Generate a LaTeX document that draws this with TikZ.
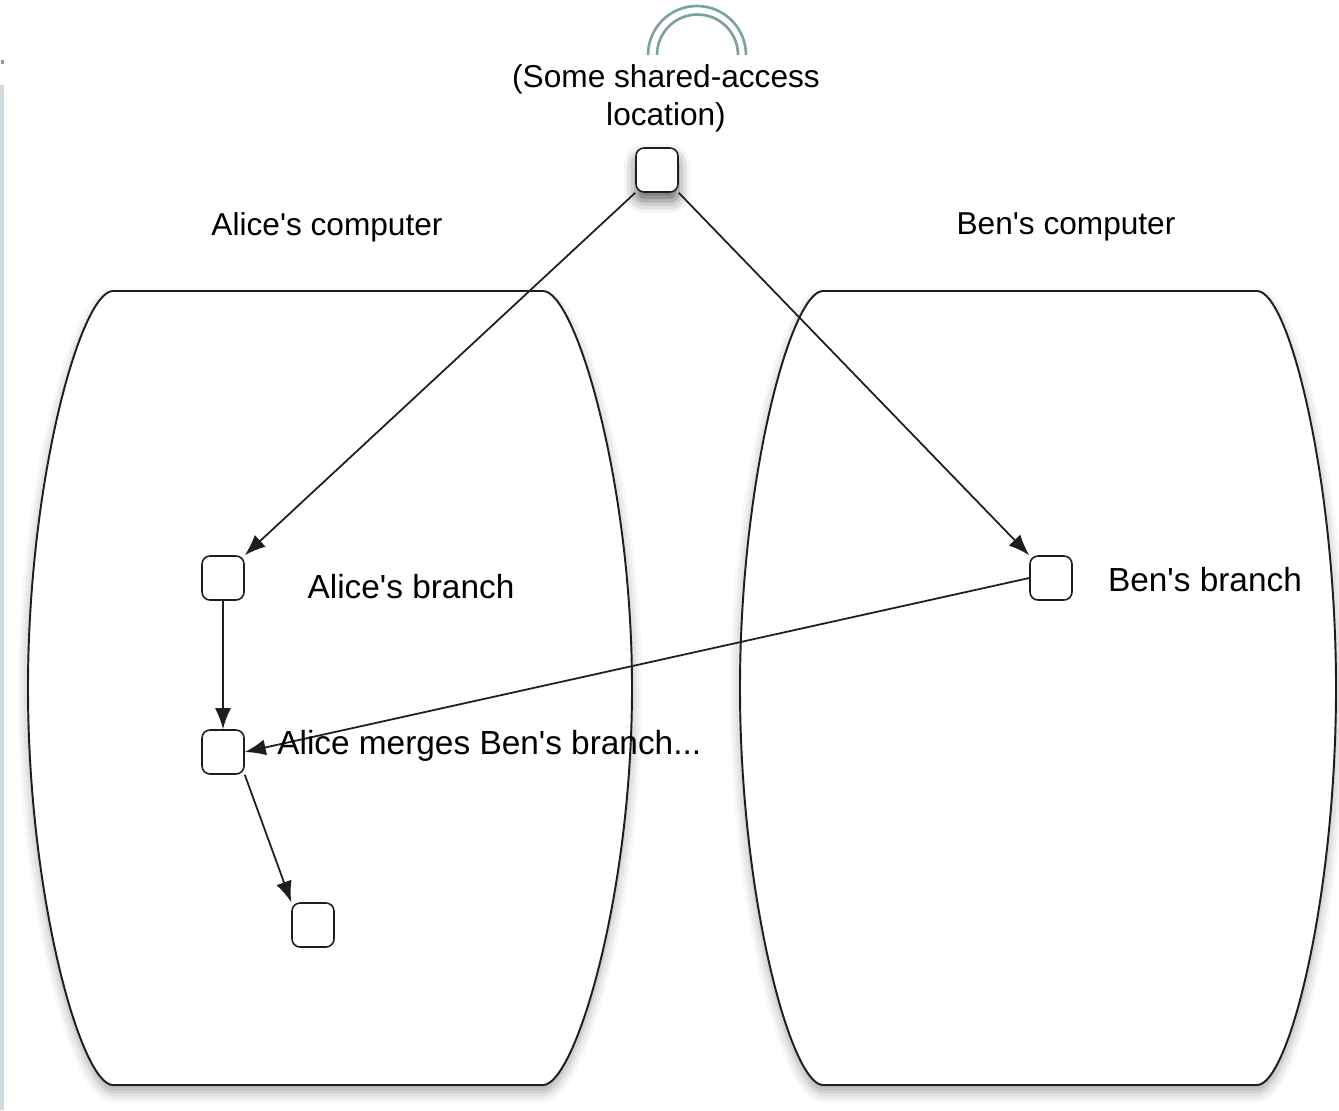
\documentclass[tikz,border=0pt]{standalone}
\usepackage{fontspec}
\setmainfont{Liberation Sans}
\usetikzlibrary{arrows.meta,shadows.blur,scopes}
\definecolor{archue}{RGB}{122,162,162}
\definecolor{striphue}{RGB}{206,218,224}
\definecolor{ink}{RGB}{30,30,30}
\begin{document}
\begin{tikzpicture}[
    x=0.02cm,y=-0.02cm,
    link/.style={draw=ink,line width=1pt,-{Latex[length=0.42cm,width=0.32cm]}},
    pc/.style={draw=ink,line width=1.1pt,fill=white,blur shadow={shadow xshift=0pt,shadow yshift=-4pt,shadow blur radius=6pt,shadow opacity=35}},
    m/.style={draw=ink,fill=white,line width=0.9pt,rounded corners=0.16cm,minimum width=0.84cm,minimum height=0.88cm,inner sep=0pt},
    lbl/.style={font=\fontsize{18}{21.5}\selectfont,text=black,inner sep=0pt},
    blbl/.style={font=\fontsize{19}{23}\selectfont,text=black,inner sep=0pt}
]
    \useasboundingbox (0,0) rectangle (1339,1110);
    % page edge
    \fill[striphue] (0,85) rectangle (4,1110);
    \fill[archue] (1,60) rectangle (4,64);
    % shared location
    \draw[archue,line width=1.5pt] (648,55) arc[start angle=180,end angle=360,radius=49];
    \draw[archue,line width=1.5pt] (657,55) arc[start angle=180,end angle=360,radius=40.5];
    \node[lbl,align=center] (loctext) at (666,98) {(Some shared-access\\location)};
    % the two computers
    \draw[pc] (113,291) -- (543,291) .. controls (575,291) and (632,480) .. (632,688)
        .. controls (632,896) and (575,1085) .. (543,1085) -- (113,1085)
        .. controls (81,1085) and (28,896) .. (28,688)
        .. controls (28,480) and (81,291) .. (113,291) -- cycle;
    \draw[pc] (823,291) -- (1257,291) .. controls (1289,291) and (1336,480) .. (1336,688)
        .. controls (1336,896) and (1289,1085) .. (1257,1085) -- (823,1085)
        .. controls (791,1085) and (740,896) .. (740,688)
        .. controls (740,480) and (791,291) .. (823,291) -- cycle;
    \node[lbl] (alicepc) at (327,227) {Alice\textquotesingle s computer};
    \node[lbl] (benpc) at (1066,227) {Ben\textquotesingle s computer};
    % commits
    \node[m,blur shadow={shadow xshift=0pt,shadow yshift=-5pt,shadow blur radius=7pt,shadow opacity=60}] (loc) at (657,170) {};
    \node[m] (ab) at (223,578) {};
    \node[m] (am) at (223,752) {};
    \node[m] (an) at (313,925) {};
    \node[m] (bb) at (1051,578) {};
    \node[blbl] (abtext) at (411,587) {Alice\textquotesingle s branch};
    \node[blbl] (bbtext) at (1205,580) {Ben\textquotesingle s branch};
    {[link]
        \draw (loc.south west) -- (ab.north east);
        \draw (loc.south east) -- (bb.north west);
        \draw (ab.south) -- (am.north);
        \draw (bb.west) -- (am.east);
        \draw (am.south east) -- (an.north west);
    }
    \node[blbl,anchor=west] (amtext) at (277,746) {Alice merges Ben\textquotesingle s branch...};
\end{tikzpicture}
\end{document}
